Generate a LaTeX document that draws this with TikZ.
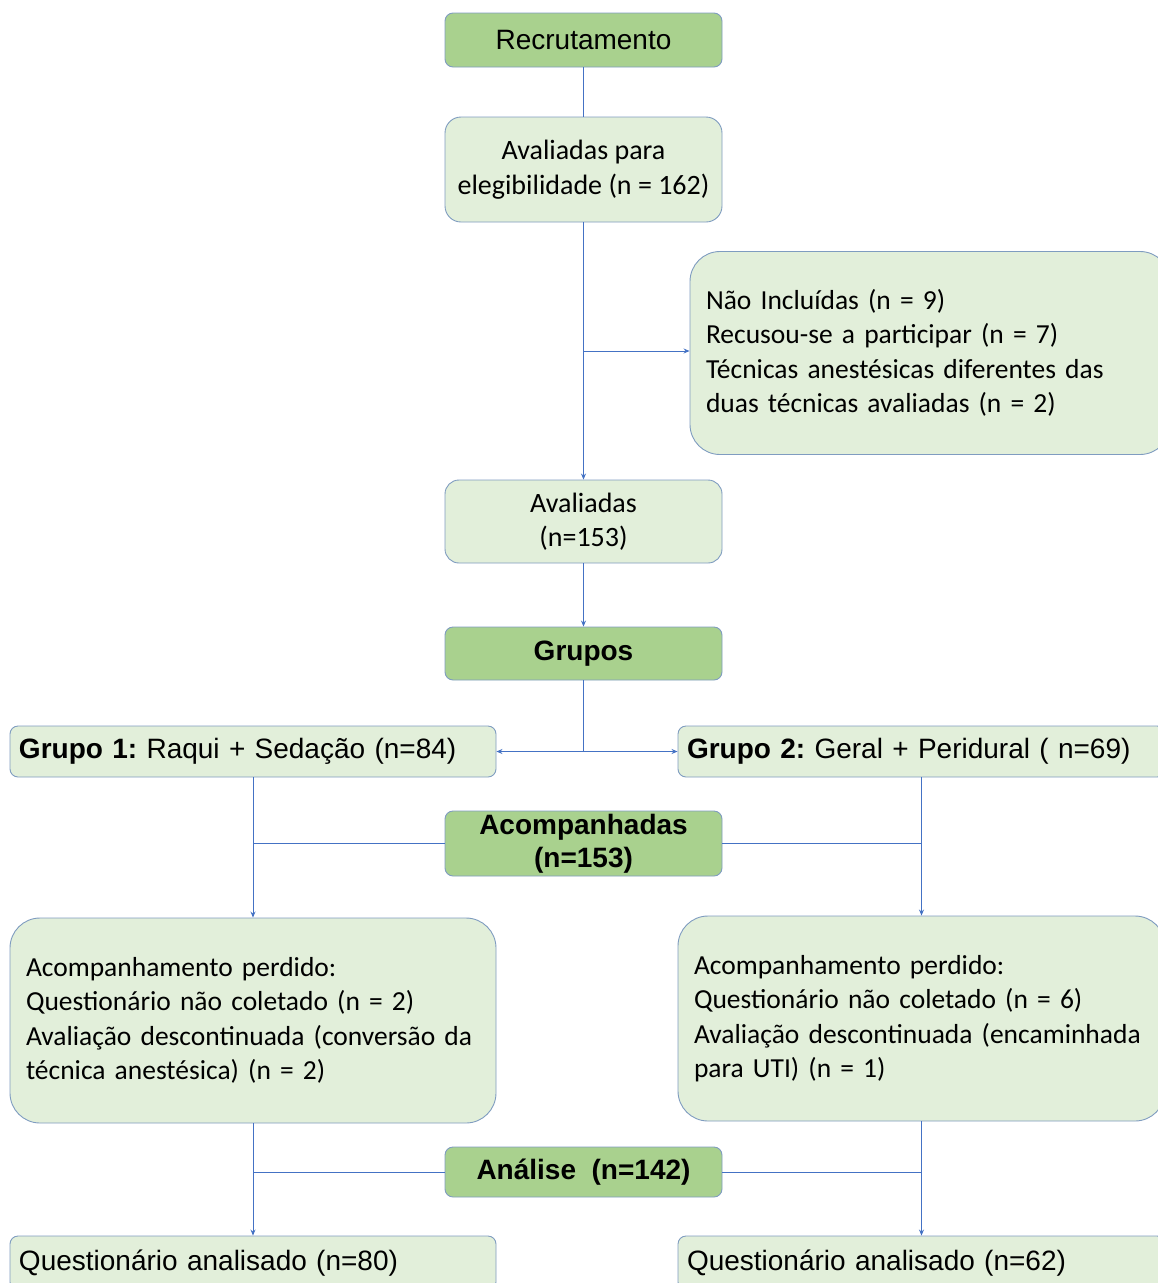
\documentclass[tikz,border=0pt]{standalone}
\usepackage{fontspec}
\setmainfont{Carlito}
\newfontfamily\arialfont{Liberation Sans}
\usetikzlibrary{arrows.meta}
\definecolor{verdeesc}{HTML}{A9D18E}
\definecolor{verdecla}{HTML}{E2EFDA}
\definecolor{bordacx}{HTML}{7F9CC0}
\definecolor{linha}{HTML}{4472C4}
\tikzset{
  caixa/.style={draw=bordacx,line width=0.9pt,inner sep=0pt,font=\frenchspacing\fontsize{28}{34.5}\selectfont},
  escura/.style={caixa,fill=verdeesc,rounded corners=8pt,font=\frenchspacing\arialfont\bfseries\fontsize{28}{33}\selectfont,align=center},
  clara/.style={caixa,fill=verdecla,rounded corners=16pt,align=center},
  grupo/.style={caixa,fill=verdecla,rounded corners=8pt,font=\frenchspacing\arialfont\fontsize{28}{33}\selectfont,align=left,text width=468pt,inner xsep=9pt},
  perda/.style={caixa,fill=verdecla,rounded corners=30pt,align=left,text width=454pt,inner xsep=16pt,font=\frenchspacing\fontsize{27.5}{34.5}\selectfont},
  seta/.style={draw=linha,line width=0.8pt}
}
\begin{document}
\begin{tikzpicture}[>={Stealth[length=6pt,width=5pt]},x=1pt,y=1pt]
\clip (0,0) rectangle (1158,-1283);
% caixas
\node[escura,minimum width=277pt,minimum height=54pt] (recr) at (583.5,-40) {\mdseries Recrutamento};
\node[clara,minimum width=277pt,minimum height=105pt] (aval) at (583.5,-169.5) {Avaliadas para\\elegibilidade (n = 162)};
\node[perda,minimum height=203pt,text width=448pt] (nao) at (930,-353) {N\~ao Inclu\'idas (n = 9)\\Recusou-se a participar (n = 7)\\T\'ecnicas anest\'esicas diferentes das\\duas t\'ecnicas avaliadas (n = 2)};
\node[clara,minimum width=277pt,minimum height=83pt,rounded corners=14pt] (aval2) at (583.5,-521.5) {Avaliadas\\(n=153)};
\node[escura,minimum width=277pt,minimum height=53pt] (grupos) at (583.5,-653.5) {Grupos};
\node[grupo,minimum height=51pt] (g1) at (253,-751.5) {\textbf{Grupo 1:} Raqui + Seda\c{c}\~ao (n=84)};
\node[grupo,minimum height=51pt,text width=469pt] (g2) at (921.5,-751.5) {\textbf{Grupo 2:} Geral + Peridural ( n=69)};
\node[escura,minimum width=277pt,minimum height=65pt] (acomp) at (583.5,-843.5) {Acompanhadas\\(n=153)};
\node[perda,minimum height=205pt] (perda1) at (253,-1020.5) {Acompanhamento perdido:\\Question\'ario n\~ao coletado (n = 2)\\Avalia\c{c}\~ao descontinuada (convers\~ao da\\t\'ecnica anest\'esica) (n = 2)};
\node[perda,minimum height=205pt,text width=455pt] (perda2) at (921.5,-1018.5) {Acompanhamento perdido:\\Question\'ario n\~ao coletado (n = 6)\\Avalia\c{c}\~ao descontinuada (encaminhada\\para UTI) (n = 1)};
\node[escura,minimum width=277pt,minimum height=50pt] (analise) at (583.5,-1172) {An\'alise~~(n=142)};
\node[grupo,minimum height=54pt] (q1) at (253,-1263) {Question\'ario analisado (n=80)};
\node[grupo,minimum height=54pt,text width=469pt] (q2) at (921.5,-1263) {Question\'ario analisado (n=62)};
% ligacoes
\draw[seta] (recr) -- (aval);
\draw[seta,->] (aval) -- (aval2);
\draw[seta,->] (aval.south |- 0,-351) -- (nao.west |- 0,-351);
\draw[seta,->] (aval2) -- (grupos);
\draw[seta,->] (grupos) |- (g1);
\draw[seta,->] (grupos) |- (g2);
\draw[seta,->] (g1) -- (perda1);
\draw[seta,->] (g2) -- (perda2);
\draw[seta] (acomp.west) -- (acomp.west -| g1.south);
\draw[seta] (acomp.east) -- (acomp.east -| g2.south);
\draw[seta,->] (perda1) -- (q1);
\draw[seta,->] (perda2) -- (q2);
\draw[seta] (analise.west) -- (analise.west -| perda1.south);
\draw[seta] (analise.east) -- (analise.east -| perda2.south);
\end{tikzpicture}
\end{document}
